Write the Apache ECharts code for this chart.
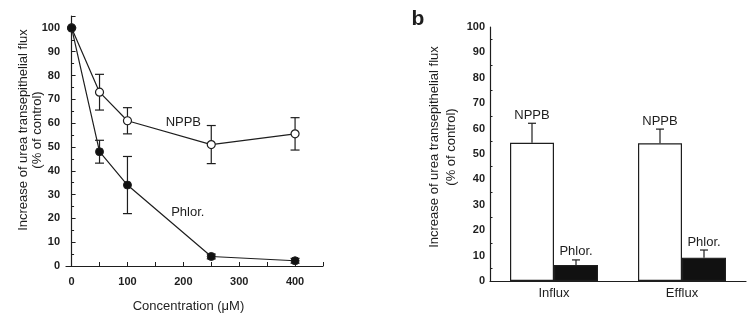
<!DOCTYPE html>
<html>
<head>
<meta charset="utf-8">
<script src="https://cdn.jsdelivr.net/npm/echarts@6/dist/echarts.min.js"></script>
<style>
  html, body { margin: 0; padding: 0; background: #fff; }
  #main { width: 750px; height: 318px; }
</style>
</head>
<body>
<div id="main"></div>
<script type="text/javascript">
  // panel a : concentration curves
  var conc = [0, 50, 100, 250, 400];
  var nppbMean = [100, 73, 61, 51, 55.5];
  var nppbErr = [0, 7.5, 5.5, 8, 6.8];
  var phlorMean = [100, 48, 34, 4, 2.2];
  var phlorErr = [0, 4.8, 12, 1, 1];
  var concTicks = [0, 100, 200, 300, 400];
  var concMinorTicks = [0, 50, 100, 150, 200, 250, 300, 350, 400, 450];

  // panel b : influx / efflux bars
  var fluxCats = ['Influx', 'Efflux'];
  var nppbFlux = [54.4, 54.2];
  var nppbFluxErr = [7.7, 5.6];
  var phlorFlux = [6.3, 9.2];
  var phlorFluxErr = [2, 3];

  var FONT = 'Liberation Sans, Arial, sans-serif';
  var INK = '#1e1e1e';
  var BAR_W = 44;

  var chart = echarts.init(document.getElementById('main'));

  function pairs(xs, ys) {
    return xs.map(function (x, i) { return [x, ys[i]]; });
  }
  function errRows(xs, m, e) {
    return xs.map(function (x, i) { return [x, m[i] - e[i], m[i] + e[i]]; });
  }

  // two sided error bars for the curves
  function errBoth(params, api) {
    var lo = api.coord([api.value(0), api.value(1)]);
    var hi = api.coord([api.value(0), api.value(2)]);
    var w = 4.5;
    var st = { stroke: INK, lineWidth: 1.2 };
    return {
      type: 'group',
      children: [
        { type: 'line', shape: { x1: hi[0], y1: hi[1], x2: lo[0], y2: lo[1] }, style: st },
        { type: 'line', shape: { x1: hi[0] - w, y1: hi[1], x2: hi[0] + w, y2: hi[1] }, style: st },
        { type: 'line', shape: { x1: lo[0] - w, y1: lo[1], x2: lo[0] + w, y2: lo[1] }, style: st }
      ]
    };
  }

  // upper error bar on a bar, with the series name above
  function errUp(side, label) {
    return function (params, api) {
      var top = api.value(1) + api.value(2);
      var base = api.coord([api.value(0), api.value(1)]);
      var hi = api.coord([api.value(0), top]);
      var x = base[0] + side * BAR_W / 2;
      var w = 4;
      var st = { stroke: INK, lineWidth: 1.2 };
      return {
        type: 'group',
        children: [
          { type: 'line', shape: { x1: x, y1: base[1], x2: x, y2: hi[1] }, style: st },
          { type: 'line', shape: { x1: x - w, y1: hi[1], x2: x + w, y2: hi[1] }, style: st },
          { type: 'text', x: x, y: hi[1] - 8,
            style: { text: label, font: '13px ' + FONT, fill: INK, align: 'center', verticalAlign: 'middle' } }
        ]
      };
    };
  }

  var axisCommon = {
    axisLine: { lineStyle: { color: INK, width: 1.2 } },
    axisTick: { inside: true, length: 4, lineStyle: { color: INK, width: 1 } },
    splitLine: { show: false }
  };

  var option = {
    animation: false,
    backgroundColor: '#fff',
    textStyle: { fontFamily: FONT },
    grid: [
      { left: 66, top: 16, width: 257, height: 253 },
      { left: 490, top: 27, width: 256, height: 254 }
    ],
    xAxis: [
      {
        gridIndex: 0, type: 'value', min: -10, max: 450,
        name: 'Concentration (\u03bcM)', nameLocation: 'middle', nameGap: 34,
        nameTextStyle: { fontSize: 13, color: INK, padding: [0, 12, 0, 0] },
        axisLine: axisCommon.axisLine,
        axisTick: { inside: true, length: 4, lineStyle: { color: INK }, customValues: concMinorTicks },
        axisLabel: { customValues: concTicks, fontSize: 11, fontWeight: 'bold', color: INK, margin: 10 },
        splitLine: { show: false }
      },
      {
        gridIndex: 1, type: 'category', data: fluxCats,
        axisLine: axisCommon.axisLine,
        axisTick: { inside: false, length: 3, lineStyle: { color: INK } },
        axisLabel: { fontSize: 13, color: INK, margin: 6 },
        splitLine: { show: false }
      }
    ],
    yAxis: [
      {
        gridIndex: 0, type: 'value', min: 0, max: 105, interval: 10,
        axisLine: { show: true, lineStyle: { color: INK, width: 1.2 } },
        axisTick: axisCommon.axisTick,
        minorTick: { show: true, splitNumber: 2, length: 2.5, lineStyle: { color: INK } },
        axisLabel: { showMaxLabel: false, fontSize: 11, fontWeight: 'bold', color: INK, margin: 6 },
        splitLine: { show: false }
      },
      {
        gridIndex: 1, type: 'value', min: 0, max: 100, interval: 10,
        axisLine: { show: true, lineStyle: { color: INK, width: 1.2 } },
        axisTick: axisCommon.axisTick,
        minorTick: { show: true, splitNumber: 2, length: 2.5, lineStyle: { color: INK } },
        axisLabel: { fontSize: 11, fontWeight: 'bold', color: INK, margin: 5 },
        splitLine: { show: false }
      }
    ],
    graphic: [
      { type: 'text', x: 30, y: 130, rotation: Math.PI / 2,
        style: { text: 'Increase of urea transepithelial flux\n(% of control)', font: '13px ' + FONT,
                 fill: INK, align: 'center', verticalAlign: 'middle', lineHeight: 14 } },
      { type: 'text', x: 443, y: 147, rotation: Math.PI / 2,
        style: { text: 'Increase of urea transepithelial flux\n(% of control)', font: '13px ' + FONT,
                 fill: INK, align: 'center', verticalAlign: 'middle', lineHeight: 17 } },
      { type: 'text', x: 418, y: 19,
        style: { text: 'b', font: 'bold 21px ' + FONT, fill: INK, align: 'center', verticalAlign: 'middle' } }
    ],
    series: [
      {
        name: 'NPPB err', type: 'custom', xAxisIndex: 0, yAxisIndex: 0, z: 2,
        renderItem: errBoth, data: errRows(conc, nppbMean, nppbErr)
      },
      {
        name: 'Phlor err', type: 'custom', xAxisIndex: 0, yAxisIndex: 0, z: 2,
        renderItem: errBoth, data: errRows(conc, phlorMean, phlorErr)
      },
      {
        name: 'NPPB', type: 'line', xAxisIndex: 0, yAxisIndex: 0, z: 3,
        data: pairs(conc, nppbMean), symbol: 'circle', symbolSize: 8,
        lineStyle: { color: INK, width: 1.2 },
        itemStyle: { color: '#fff', borderColor: INK, borderWidth: 1.2 },
        markPoint: {
          symbol: 'circle', symbolSize: 0,
          label: { show: true, position: 'inside', formatter: 'NPPB', fontSize: 13, color: INK },
          data: [{ coord: [200, 60.2] }]
        }
      },
      {
        name: 'Phlor.', type: 'line', xAxisIndex: 0, yAxisIndex: 0, z: 3,
        data: pairs(conc, phlorMean), symbol: 'circle', symbolSize: 8,
        lineStyle: { color: INK, width: 1.2 },
        itemStyle: { color: '#111', borderColor: INK, borderWidth: 1 },
        markPoint: {
          symbol: 'circle', symbolSize: 0,
          label: { show: true, position: 'inside', formatter: 'Phlor.', fontSize: 13, color: INK },
          data: [{ coord: [208, 22.4] }]
        }
      },
      {
        name: 'NPPB', type: 'bar', xAxisIndex: 1, yAxisIndex: 1,
        data: nppbFlux, barWidth: BAR_W, barGap: '0%',
        itemStyle: { color: '#fff', borderColor: INK, borderWidth: 1.2 }
      },
      {
        name: 'Phlor.', type: 'bar', xAxisIndex: 1, yAxisIndex: 1,
        data: phlorFlux, barWidth: BAR_W, barGap: '0%',
        itemStyle: { color: '#111', borderColor: INK, borderWidth: 1.2 }
      },
      {
        name: 'NPPB flux err', type: 'custom', xAxisIndex: 1, yAxisIndex: 1, z: 3,
        renderItem: errUp(-1, 'NPPB'),
        data: fluxCats.map(function (c, i) { return [i, nppbFlux[i], nppbFluxErr[i]]; })
      },
      {
        name: 'Phlor flux err', type: 'custom', xAxisIndex: 1, yAxisIndex: 1, z: 3,
        renderItem: errUp(1, 'Phlor.'),
        data: fluxCats.map(function (c, i) { return [i, phlorFlux[i], phlorFluxErr[i]]; })
      }
    ]
  };

  chart.setOption(option);
</script>
</body>
</html>
